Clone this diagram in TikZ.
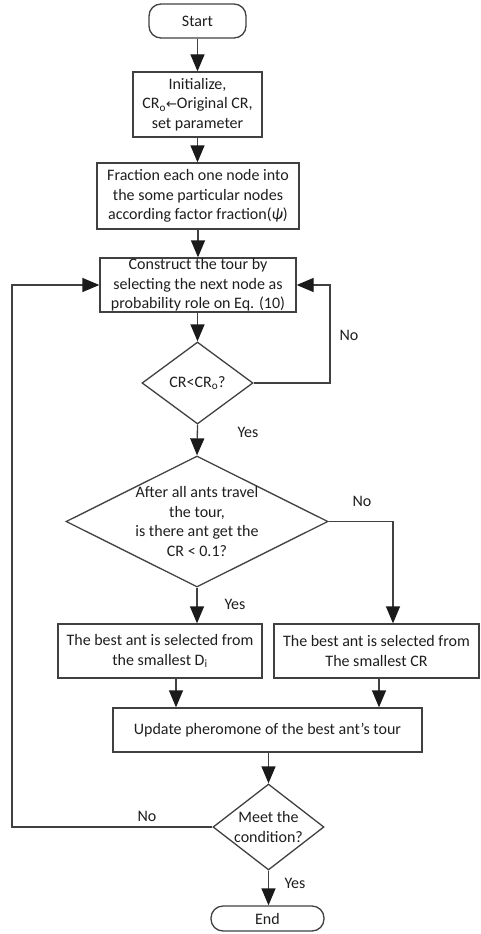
\documentclass[tikz,border=0pt]{standalone}
\usepackage{fontspec}
\setmainfont{Carlito}
\newfontfamily\dejavu{DejaVu Sans}
\usetikzlibrary{shapes.geometric,arrows.meta}
\definecolor{ln}{HTML}{404040}
\definecolor{tx}{HTML}{1E1E1E}
\definecolor{tip}{HTML}{1A1A1A}
\tikzset{
  every node/.style={text=tx, font=\fontsize{16}{19.5}\selectfont},
  box/.style={draw=ln, line width=1.3pt, rectangle, inner sep=0pt, align=center},
  term/.style={box, rounded corners=12pt},
  dia/.style={draw=ln, line width=1.3pt, diamond, inner sep=0pt, shape aspect=1},
  lbl/.style={inner sep=0pt},
  arr/.style={draw=ln, line width=1.3pt, -{Triangle[length=17pt,width=14pt,color=tip]}}
}
\begin{document}
\begin{tikzpicture}[x=1pt,y=-1pt]
\useasboundingbox (0,0) rectangle (480,934);
\node[term, minimum width=97pt, minimum height=34pt] (start) at (197.5,21) {Start};
\node[box, minimum width=129pt, minimum height=65pt] (init) at (197.5,104.5) {Initialize,\\CR\textsubscript{o}{\dejavu\fontsize{13}{13}\selectfont ←}Original CR,\\set parameter};
\node[box, minimum width=202pt, minimum height=66pt] (frac) at (198,196) {Fraction each one node into\\the some particular nodes\\according factor fraction(\textit{ψ})};
\node[box, minimum width=196pt, minimum height=54pt] (cons) at (198,285) {Construct the tour by\\selecting the next node as\\probability role on Eq. (10)};
\node[dia, minimum width=111pt, minimum height=82pt] (d1) at (197.5,383) {};
\node[lbl] (d1t) at (d1) {CR<CR\textsubscript{o}?};
\node[dia, minimum width=262pt, minimum height=131pt] (d2) at (197,521.5) {};
\node[lbl, align=center] (d2t) at (d2) {After all ants travel\\the tour,\\is there ant get the\\CR < 0.1?};
\node[box, minimum width=204pt, minimum height=54pt] (lb) at (160,651) {The best ant is selected from\\the smallest D\textsubscript{i}};
\node[box, minimum width=205pt, minimum height=54pt] (rb) at (376.5,651) {The best ant is selected from\\The smallest CR};
\node[box, minimum width=309pt, minimum height=44pt] (ub) at (267.5,730) {Update pheromone of the best ant’s tour};
\node[dia, minimum width=111pt, minimum height=86pt] (d3) at (268.5,827) {};
\node[lbl, align=center] (d3t) at (d3) {Meet the\\condition?};
\node[term, minimum width=113pt, minimum height=25pt] (end) at (267.5,918.5) {End};
% labels
\node[lbl] (no1) at (349,335) {No};
\node[lbl] (yes1) at (248,432) {Yes};
\node[lbl] (no2) at (362,501) {No};
\node[lbl] (yes2) at (235,604) {Yes};
\node[lbl] (no3) at (147,816) {No};
\node[lbl] (yes3) at (295,883) {Yes};
% helper coordinates
\coordinate (r1) at (330,383);
\coordinate (r2) at (393,521.5);
\coordinate (la) at (176,0);
\coordinate (ra) at (379,0);
\coordinate (l3) at (12,827);
% connectors
\draw[arr] (start) -- (init);
\draw[arr] (init.south) -- (init.south |- frac.north);
\draw[arr] (frac) -- (cons);
\draw[arr] (cons.south -| d1.north) -- (d1.north);
\draw[arr] (d1.east) -- (r1) |- (cons.east);
\draw[arr] (d1.south) -- (d2.north);
\draw[arr] (d2.east) -- (r2) -- (r2 |- rb.north);
\draw[arr] (d2.south) -- (d2.south |- lb.north);
\draw[arr] (la |- lb.south) -- (la |- ub.north);
\draw[arr] (ra |- rb.south) -- (ra |- ub.north);
\draw[arr] (d3.north |- ub.south) -- (d3.north);
\draw[arr] (d3.west) -- (l3) |- (cons.west);
\draw[arr] (d3.south) -- (end.north -| d3.south);
\end{tikzpicture}
\end{document}
